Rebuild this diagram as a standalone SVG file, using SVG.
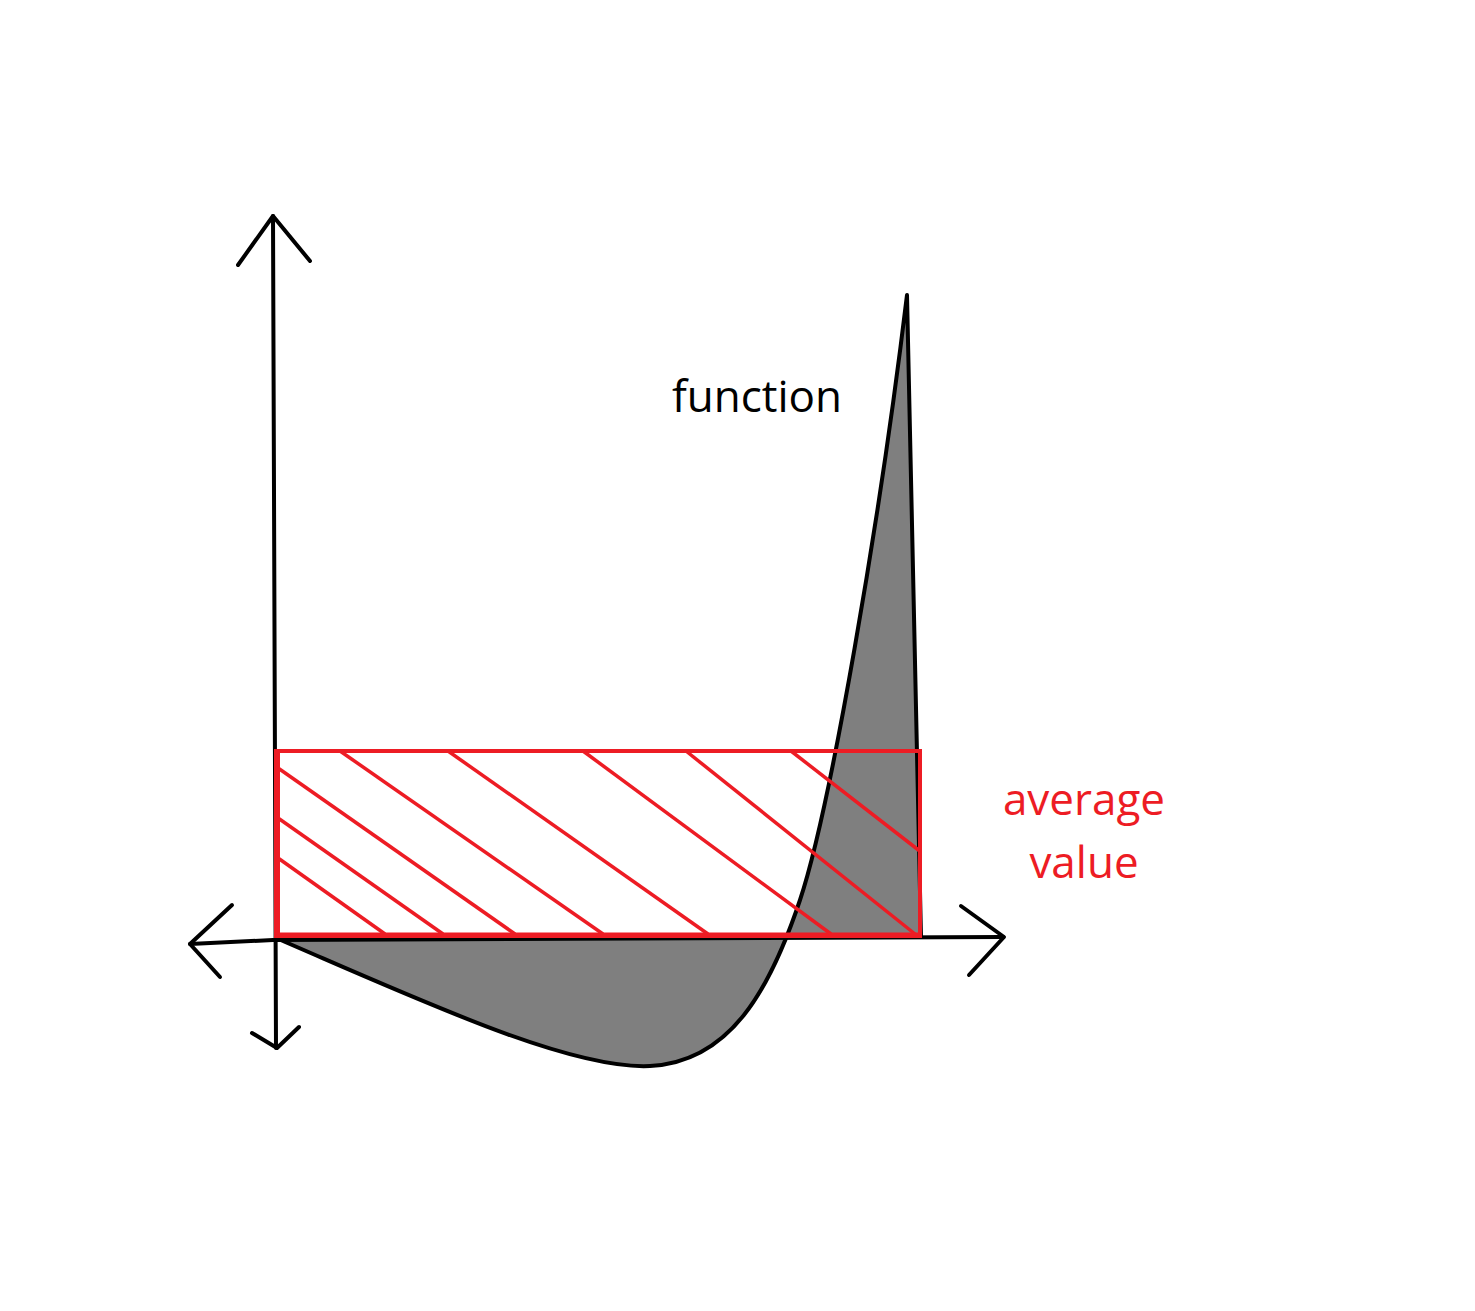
<svg xmlns="http://www.w3.org/2000/svg" width="1475" height="1311" viewBox="0 0 1475 1311">
<style>
.ax{fill:none;stroke:#000;stroke-width:4;stroke-linecap:round;stroke-linejoin:round}
.red{fill:none;stroke:#ED1C24;stroke-width:4}
.hatch{stroke:#ED1C24;stroke-width:3.5;fill:none}
.lbl{font-family:"Open Sans","Noto Sans",sans-serif;font-size:44px}
</style>
<rect width="1475" height="1311" fill="#fff"/>
<g id="function-area">
<path d="M276,938 C420,1000 570,1070 650,1066 C730,1062 770,990 800,900 C830,810 880,520 907,295 L921,937 Z" fill="#7F7F7F" stroke="none"/>
</g>
<g id="axes">
<path class="ax" d="M273,216 L276,1048"/>
<path class="ax" d="M238,265 L273,216 L310,261"/>
<path class="ax" d="M252,1033 L277,1048 L299,1027"/>
<path class="ax" d="M190,944 L273,940 L1003,937"/>
<path class="ax" d="M232,905 L190,944 L220,977"/>
<path class="ax" d="M961,906 L1004,937 L969,975"/>
</g>
<g id="function-curve">
<path class="ax" d="M276,938 C420,1000 570,1070 650,1066 C730,1062 770,990 800,900 C830,810 880,520 907,295 L921,937"/>
</g>
<g id="average-rect">
<g class="hatch">
<line x1="278" y1="858" x2="385" y2="934"/>
<line x1="278" y1="818" x2="443" y2="934"/>
<line x1="278" y1="768" x2="515" y2="934"/>
<line x1="340" y1="751" x2="603" y2="934"/>
<line x1="448" y1="751" x2="708" y2="934"/>
<line x1="583" y1="751" x2="831" y2="934"/>
<line x1="686" y1="751" x2="915" y2="934"/>
<line x1="791" y1="751" x2="921" y2="852"/>
</g>
<rect class="red" x="276" y="751" width="644" height="185"/>
<line x1="277" y1="751" x2="277" y2="936" stroke="#ED1C24" stroke-width="6"/>
<line x1="276" y1="935" x2="920" y2="935" stroke="#ED1C24" stroke-width="5"/>
</g>
<g id="label-function">
<text class="lbl" x="757" y="412" text-anchor="middle" fill="#000">function</text>
</g>
<g id="label-average">
<text class="lbl" x="1084" y="815" text-anchor="middle" fill="#ED1C24">average</text>
<text class="lbl" x="1084" y="878" text-anchor="middle" fill="#ED1C24">value</text>
</g>
</svg>
